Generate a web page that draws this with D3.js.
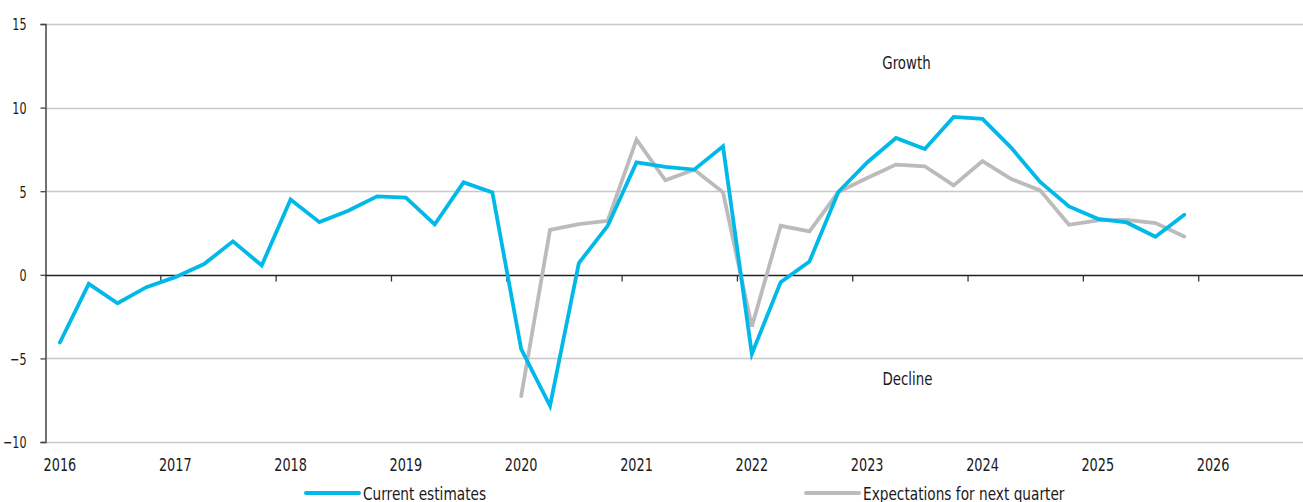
<!DOCTYPE html>
<html>
<head>
<meta charset="utf-8">
<script src="https://cdn.jsdelivr.net/npm/d3@7"></script>
<style>
  body { margin: 0; background: #fff; }
  svg text { font-family: "Liberation Sans Narrow", "DejaVu Sans Condensed", "Roboto", sans-serif; fill: #1a1a1a; }
</style>
</head>
<body>
<svg id="chart" width="1303" height="502"></svg>
<script>
// quarters 2016Q1 .. 2026Q4
const years = d3.range(2016, 2027);
const quarters = years.flatMap(y => [1, 2, 3, 4].map(q => `${y}Q${q}`));

// current estimates, 2016Q1 .. 2025Q4
const currentEstimates = [
  -4.05, -0.54, -1.7, -0.74, -0.14, 0.64, 2.0, 0.56,
  4.5, 3.15, 3.83, 4.69, 4.61, 3.01, 5.53, 4.93,
  -4.45, -7.84, 0.7, 2.93, 6.72, 6.45, 6.29, 7.68,
  -4.73, -0.44, 0.8, 4.95, 6.72, 8.18, 7.52, 9.44,
  9.33, 7.59, 5.55, 4.09, 3.35, 3.13, 2.28, 3.59
];

// expectations for next quarter, 2020Q1 .. 2025Q4
const expectStart = '2020Q1';
const expectations = [
  -7.25, 2.69, 3.03, 3.23, 8.08, 5.65, 6.29, 4.93,
  -3.1, 2.93, 2.6, 4.95, 5.79, 6.59, 6.49, 5.35,
  6.8, 5.73, 5.05, 2.99, 3.25, 3.29, 3.09, 2.29
];

const yTicks = [-10, -5, 0, 5, 10, 15];
const seriesNames = ['Current estimates', 'Expectations for next quarter'];
const colors = ['#00B9E8', '#BBBBBB'];

const svg = d3.select('#chart');
const left = 45.5, step = 28.83;
const width = 1303;

// squeeze text to look like the narrow font of the original
function condense(sel, f) {
  sel.each(function() {
    const w = this.getComputedTextLength();
    d3.select(this).attr('textLength', w * f).attr('lengthAdjust', 'spacingAndGlyphs');
  });
}

const x = d3.scaleBand()
  .domain(quarters)
  .range([left, left + quarters.length * step]);

const y = d3.scaleLinear()
  .domain([-10, 15])
  .range([442, 24]);

// grid
svg.append('g')
  .selectAll('line')
  .data(yTicks.filter(d => d !== 0))
  .enter().append('line')
    .attr('x1', left).attr('x2', width)
    .attr('y1', d => Math.round(y(d)) + 0.5).attr('y2', d => Math.round(y(d)) + 0.5)
    .attr('stroke', '#c8c8c8').attr('stroke-width', 1.3);

// y axis
const yAxis = svg.append('g')
  .attr('transform', `translate(${left},0)`)
  .call(d3.axisLeft(y).tickValues(yTicks).tickSize(5).tickPadding(14));
yAxis.select('.domain').attr('stroke', '#444').attr('stroke-width', 1.5);
yAxis.selectAll('.tick line').attr('stroke', '#444').attr('stroke-width', 1.3);
yAxis.selectAll('text')
  .attr('font-size', 16.5)
  .attr('font-family', null)
  .attr('dy', '0.36em')
  .style('fill', '#1a1a1a')
  .call(condense, 0.75);

// zero line with year ticks
const zeroY = Math.round(y(0)) + 0.5;
svg.append('line')
  .attr('x1', left).attr('x2', width)
  .attr('y1', zeroY).attr('y2', zeroY)
  .attr('stroke', '#222').attr('stroke-width', 1.5);

svg.append('g')
  .selectAll('line')
  .data(years.slice(1))
  .enter().append('line')
    .attr('x1', d => x(`${d}Q1`)).attr('x2', d => x(`${d}Q1`))
    .attr('y1', zeroY).attr('y2', zeroY + 6)
    .attr('stroke', '#333').attr('stroke-width', 1.3);

// year labels
svg.append('g')
  .selectAll('text')
  .data(years)
  .enter().append('text')
    .attr('x', d => x(`${d}Q1`) + x.bandwidth() / 2)
    .attr('y', 470.5)
    .attr('text-anchor', 'middle')
    .attr('font-size', 17)
    .text(d => d)
    .call(condense, 0.84);

// lines
const line = d3.line()
  .x(d => x(d.q) + x.bandwidth() / 2)
  .y(d => y(d.v));

const startIdx = quarters.indexOf(expectStart);
const series = [
  currentEstimates.map((v, i) => ({ q: quarters[i], v })),
  expectations.map((v, i) => ({ q: quarters[startIdx + i], v }))
];

svg.append('g')
  .selectAll('path')
  .data([series[1], series[0]])
  .enter().append('path')
    .attr('d', line)
    .attr('fill', 'none')
    .attr('stroke', (d, i) => i === 0 ? colors[1] : colors[0])
    .attr('stroke-width', 3.8)
    .attr('stroke-linejoin', 'miter')
    .attr('stroke-linecap', 'round');

// annotations
svg.append('text').attr('x', 906.5).attr('y', 68.5).attr('text-anchor', 'middle')
  .attr('font-size', 17.5).text('Growth').call(condense, 0.85);
svg.append('text').attr('x', 907.5).attr('y', 384.5).attr('text-anchor', 'middle')
  .attr('font-size', 17.5).text('Decline').call(condense, 0.85);

// legend
const legendX = [306, 806];
const legend = svg.append('g')
  .selectAll('g')
  .data(seriesNames)
  .enter().append('g')
    .attr('transform', (d, i) => `translate(${legendX[i]},493)`);
legend.append('line')
  .attr('x1', 0).attr('x2', 53)
  .attr('stroke', (d, i) => colors[i])
  .attr('stroke-width', 4)
  .attr('stroke-linecap', 'round');
legend.append('text')
  .attr('x', 57).attr('y', 6.5)
  .attr('font-size', 17)
  .text(d => d)
  .call(condense, 0.895);
</script>
</body>
</html>
